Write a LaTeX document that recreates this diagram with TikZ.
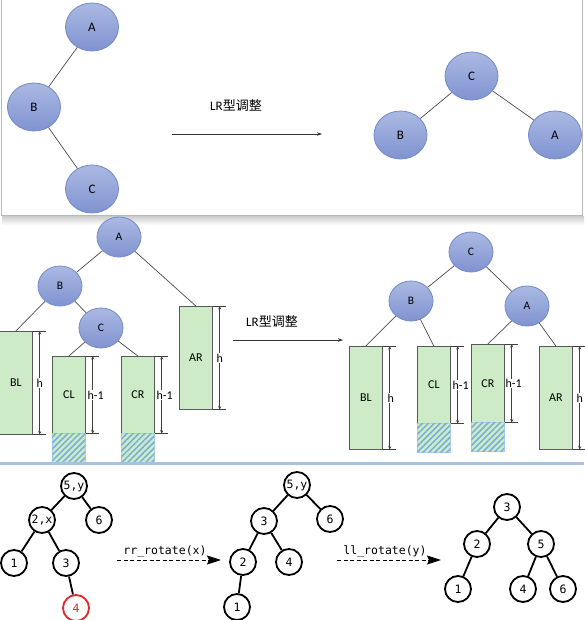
\documentclass[tikz,border=0pt]{standalone}
\usepackage{fontspec}
\setmainfont{Carlito}
\newfontfamily\cjk{Noto Sans CJK SC}
\newfontfamily\monof{DejaVu Sans Mono}
\usetikzlibrary{shapes.geometric,arrows.meta,patterns.meta}
\definecolor{ellb}{HTML}{7389C9}
\definecolor{elltop}{HTML}{AAB9E3}
\definecolor{ellbot}{HTML}{8093D0}
\definecolor{boxg}{HTML}{CDEBC7}
\definecolor{hatchb}{HTML}{76AEDB}
\definecolor{sepb}{HTML}{A8C2E2}
\definecolor{redn}{HTML}{E8242B}
\tikzset{
 bigell/.style={ellipse, draw=ellb, line width=0.8pt, top color=elltop, bottom color=ellbot, minimum width=53pt, minimum height=48pt, inner sep=0pt, font=\fontsize{13}{13}\selectfont},
 smallell/.style={bigell, minimum width=44pt, minimum height=40pt, font=\fontsize{11.5}{12}\selectfont},
 tline/.style={draw=black!70, line width=0.7pt},
 gbox/.style={draw=black!65, line width=0.7pt, fill=boxg, minimum width=33pt, inner sep=0pt, anchor=north west, font=\fontsize{12}{12}\selectfont},
 hbox/.style={draw=hatchb!60, line width=0.5pt, fill=boxg, minimum width=33pt, inner sep=0pt, anchor=north west, postaction={pattern={Lines[angle=45,distance=4.2pt,line width=1.5pt]}, pattern color=hatchb}},
 dimline/.style={draw=black!75, line width=0.6pt, {Stealth[length=3.5pt,width=3pt]}-{Stealth[length=3.5pt,width=3pt]}},
 tickl/.style={draw=black!75, line width=0.6pt},
 dimlab/.style={fill=white, inner sep=0.6pt, font=\fontsize{12}{12}\selectfont},
 bnode/.style={circle, draw=black, line width=1.8pt, minimum size=26pt, inner sep=0pt, font=\monof\fontsize{11.5}{12}\selectfont},
 bline/.style={draw=black, line width=1.8pt},
 darrow/.style={draw=black, line width=0.8pt, dash pattern=on 4pt off 2.5pt, -{Stealth[length=14pt,width=9pt,inset=2pt]}},
 arr/.style={draw=black!80, line width=0.7pt, -{Stealth[length=5pt,width=3.5pt]}},
 labtxt/.style={font=\fontsize{13}{13}\selectfont},
 monolab/.style={font=\monof\fontsize{11.5}{12}\selectfont}
}
\newcommand\dimmark[3]{%
  \draw[tickl] (#1.north east) -- ++(13,0);
  \draw[tickl] (#1.south east) -- ++(13,0);
  \draw[dimline] ([xshift=7pt]#1.north east) -- ([xshift=7pt]#1.south east) node[midway, dimlab, xshift=#3] {#2};
}
\begin{document}
\begin{tikzpicture}[x=1pt,y=-1pt]
\useasboundingbox (0,0) rectangle (584,620);
\fill[white] (0,0) rectangle (584,620);
% ---------- top panel ----------
\shade[top color=black!20, bottom color=white] (2,216) rectangle (584,225);
\draw[draw=black!28, fill=white, line width=1.2pt] (1.5,-2) rectangle (582.5,215.5);
\node[bigell] (tA) at (92,27) {A};
\node[bigell] (tB) at (34,107) {B};
\node[bigell] (tC) at (92,189) {C};
\draw[tline] (tA) -- (tB);
\draw[tline] (tB) -- (tC);
\coordinate (t1) at (172,134);
\coordinate (t2) at (322,134);
\draw[arr] (t1) -- (t2);
\node[labtxt] (tlab) at (236,106) {LR{\cjk 型调整}};
\node[bigell] (uC) at (471.5,76) {C};
\node[bigell] (uB) at (400.5,135) {B};
\node[bigell] (uA) at (555,135) {A};
\draw[tline] (uC) -- (uB);
\draw[tline] (uC) -- (uA);
% ---------- middle panel, left ----------
\node[smallell] (mA) at (119,237) {A};
\node[smallell] (mB) at (60,286) {B};
\node[smallell] (mC) at (101,328) {C};
\node[gbox, minimum height=103pt] (mBL) at (-1,331) {BL};
\node[gbox, minimum height=77pt] (mCL) at (52,356) {CL};
\node[hbox, minimum height=29pt] (mCLh) at (52,433) {};
\node[gbox, minimum height=77pt] (mCR) at (121,356) {CR};
\node[hbox, minimum height=29pt] (mCRh) at (121,433) {};
\node[gbox, minimum height=103pt] (mAR) at (179,306) {AR};
\draw[tline] (mA) -- (mB);
\draw[tline] (mA) -- (mAR.north);
\draw[tline] (mB) -- (mBL.north);
\draw[tline] (mB) -- (mC);
\draw[tline] (mC) -- (mCL.north);
\draw[tline] (mC) -- (mCR.north);
\dimmark{mBL}{h}{0pt}
\dimmark{mCL}{h-1}{3pt}
\dimmark{mCR}{h-1}{3pt}
\dimmark{mAR}{h}{0pt}
\coordinate (m1) at (233,340);
\coordinate (m2) at (343,340);
\draw[arr] (m1) -- (m2);
\node[labtxt] (mlab) at (272,322) {LR{\cjk 型调整}};
% ---------- middle panel, right ----------
\node[smallell] (nC) at (471,252) {C};
\node[smallell] (nB) at (411,301) {B};
\node[smallell] (nA) at (527,306) {A};
\node[gbox, minimum height=103pt] (nBL) at (349,346) {BL};
\node[gbox, minimum height=77pt] (nCL) at (417,346) {CL};
\node[hbox, minimum height=29pt] (nCLh) at (417,423) {};
\node[gbox, minimum height=78pt] (nCR) at (471,344) {CR};
\node[hbox, minimum height=29pt] (nCRh) at (471,422) {};
\node[gbox, minimum height=103pt] (nAR) at (539,346) {AR};
\draw[tline] (nC) -- (nB);
\draw[tline] (nC) -- (nA);
\draw[tline] (nB) -- (nBL.north);
\draw[tline] (nB) -- (nCL.north);
\draw[tline] (nA) -- (nCR.north);
\draw[tline] (nA) -- (nAR.north);
\dimmark{nBL}{h}{1pt}
\dimmark{nCL}{h-1}{3pt}
\dimmark{nCR}{h-1}{2pt}
\dimmark{nAR}{h}{0pt}
% separator
\draw[sepb, line width=3pt] (0,463.5) -- (584,463.5);
% ---------- bottom panel ----------
\node[bnode] (y5) at (74,486) {5,y};
\node[bnode] (x2) at (42,520) {2,x};
\node[bnode] (a6) at (99,520) {6};
\node[bnode] (a1) at (14,563) {1};
\node[bnode] (a3) at (66,563) {3};
\node[bnode, draw=redn, text=redn] (a4) at (76,608) {4};
\draw[bline] (y5) -- (x2);
\draw[bline] (y5) -- (a6);
\draw[bline] (x2) -- (a1);
\draw[bline] (x2) -- (a3);
\draw[bline] (a3) -- (a4);
\coordinate (d1s) at (117,560);
\coordinate (d1e) at (221,560);
\draw[darrow] (d1s) -- (d1e);
\node[monolab] (d1l) at (165,551) {rr\_rotate(x)};
\node[bnode] (b5) at (297,485) {5,y};
\node[bnode] (b3) at (264,521) {3};
\node[bnode] (b6) at (330,519) {6};
\node[bnode] (b2) at (243,562) {2};
\node[bnode] (b4) at (289,562) {4};
\node[bnode] (b1) at (237,607) {1};
\draw[bline] (b5) -- (b3);
\draw[bline] (b5) -- (b6);
\draw[bline] (b3) -- (b2);
\draw[bline] (b3) -- (b4);
\draw[bline] (b2) -- (b1);
\coordinate (d2s) at (337,560);
\coordinate (d2e) at (441,560);
\draw[darrow] (d2s) -- (d2e);
\node[monolab] (d2l) at (385,551) {ll\_rotate(y)};
\node[bnode] (c3) at (507,507) {3};
\node[bnode] (c2) at (477,544) {2};
\node[bnode] (c5) at (541,544) {5};
\node[bnode] (c1) at (458,589) {1};
\node[bnode] (c4) at (523,589) {4};
\node[bnode] (c6) at (563,589) {6};
\draw[bline] (c3) -- (c2);
\draw[bline] (c3) -- (c5);
\draw[bline] (c2) -- (c1);
\draw[bline] (c5) -- (c4);
\draw[bline] (c5) -- (c6);
\end{tikzpicture}
\end{document}
